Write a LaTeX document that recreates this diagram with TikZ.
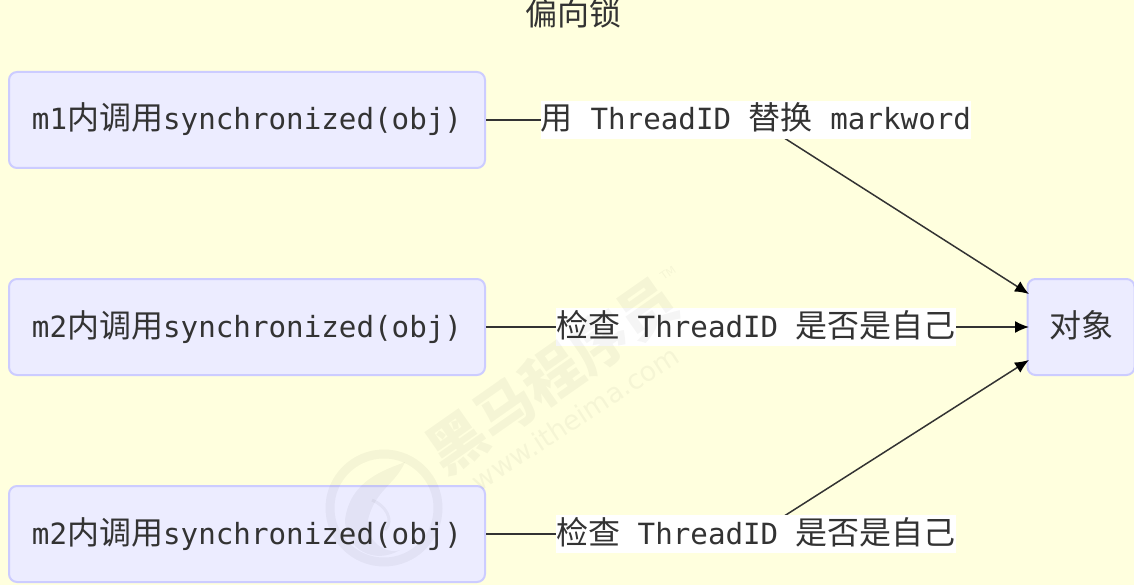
\documentclass[tikz,border=0pt]{standalone}
\usepackage{fontspec}
\setmainfont{DejaVu Sans}
\setmonofont{DejaVu Sans Mono}
\newfontfamily\cjk{Noto Sans CJK SC}
\newcommand{\cn}[1]{{\cjk\fontsize{32}{36}\selectfont #1}}
\usetikzlibrary{arrows.meta,positioning}
\definecolor{bgyellow}{HTML}{FFFFDE}
\definecolor{boxfill}{HTML}{ECECFF}
\definecolor{boxline}{HTML}{CCCCFF}
\definecolor{inkdark}{HTML}{333333}
\begin{document}
\begin{tikzpicture}[
x=1pt,y=-1pt,
box/.style={draw=boxline,fill=boxfill,rounded corners=8pt,line width=2pt,minimum height=96pt,text=inkdark,inner sep=0pt,text height=29pt,text depth=9pt},
threadbox/.style={box,minimum width=476pt,font=\fontsize{29.2}{34}\ttfamily},
edgelabel/.style={fill=white,inner sep=0pt,text height=29pt,text depth=9pt,text=inkdark,font=\fontsize{29.2}{34}\ttfamily},
link/.style={draw=inkdark,line width=1.5pt},
arrow/.style={link,-{Latex[length=14pt,width=12pt,black]}},
markink/.style={black,opacity=0.04}
]
    \fill[bgyellow] (0,0) rectangle (1134,585);
    \useasboundingbox (0,0) rectangle (1134,585);

    \node[text=inkdark,font=\cjk\fontsize{32}{36}\selectfont] (title) at (573,13) {偏向锁};

    \node[threadbox] (m1) at (247,120) {m1\cn{内调用}synchronized(obj)};
    \node[threadbox] (m2) at (247,327) {m2\cn{内调用}synchronized(obj)};
    \node[threadbox] (m3) at (247,534) {m2\cn{内调用}synchronized(obj)};
    \node[box,minimum width=107pt,font=\cjk\fontsize{32}{36}\selectfont] (obj) at (1081,327) {对象};

    \coordinate (bend1) at (756,120);
    \coordinate (bend3) at (756,534);
    \coordinate (objtop) at (1029,294);
    \coordinate (objbot) at (1029,360);
    \coordinate (objmid) at (1029,327);

    \draw[link] (m1.east) -- (bend1);
    \draw[arrow] (bend1) -- (objtop);
    \draw[arrow] (m2.east) -- (objmid);
    \draw[link] (m3.east) -- (bend3);
    \draw[arrow] (bend3) -- (objbot);

    \node[edgelabel] (lab1) at (756,120) {\cn{用} ThreadID \cn{替换} markword};
    \node[edgelabel] (lab2) at (756,327) {\cn{检查} ThreadID \cn{是否是自己}};
    \node[edgelabel] (lab3) at (756,534) {\cn{检查} ThreadID \cn{是否是自己}};

    % watermark
    \node[markink,rotate=35,font=\cjk\bfseries\fontsize{58}{60}\selectfont] (markname) at (552,375) {黑马程序员};
    \node[markink,rotate=35,font=\fontsize{11}{12}\selectfont] (marktm) at (668,273) {TM};
    \node[markink,rotate=33,font=\fontsize{27}{30}\selectfont] (markurl) at (575,418) {www.itheima.com};
    \draw[markink,line width=9pt] (384,508) circle (54pt);
    \fill[markink] (345,520) .. controls (350,480) and (385,470) .. (405,462) .. controls (395,485) and (375,490) .. (368,520) .. controls (365,540) and (385,555) .. (400,550) .. controls (375,565) and (345,550) .. (345,520) -- cycle;
    \draw[markink,line width=3pt] (372,500) .. controls (385,505) and (395,520) .. (385,530);
\end{tikzpicture}
\end{document}
